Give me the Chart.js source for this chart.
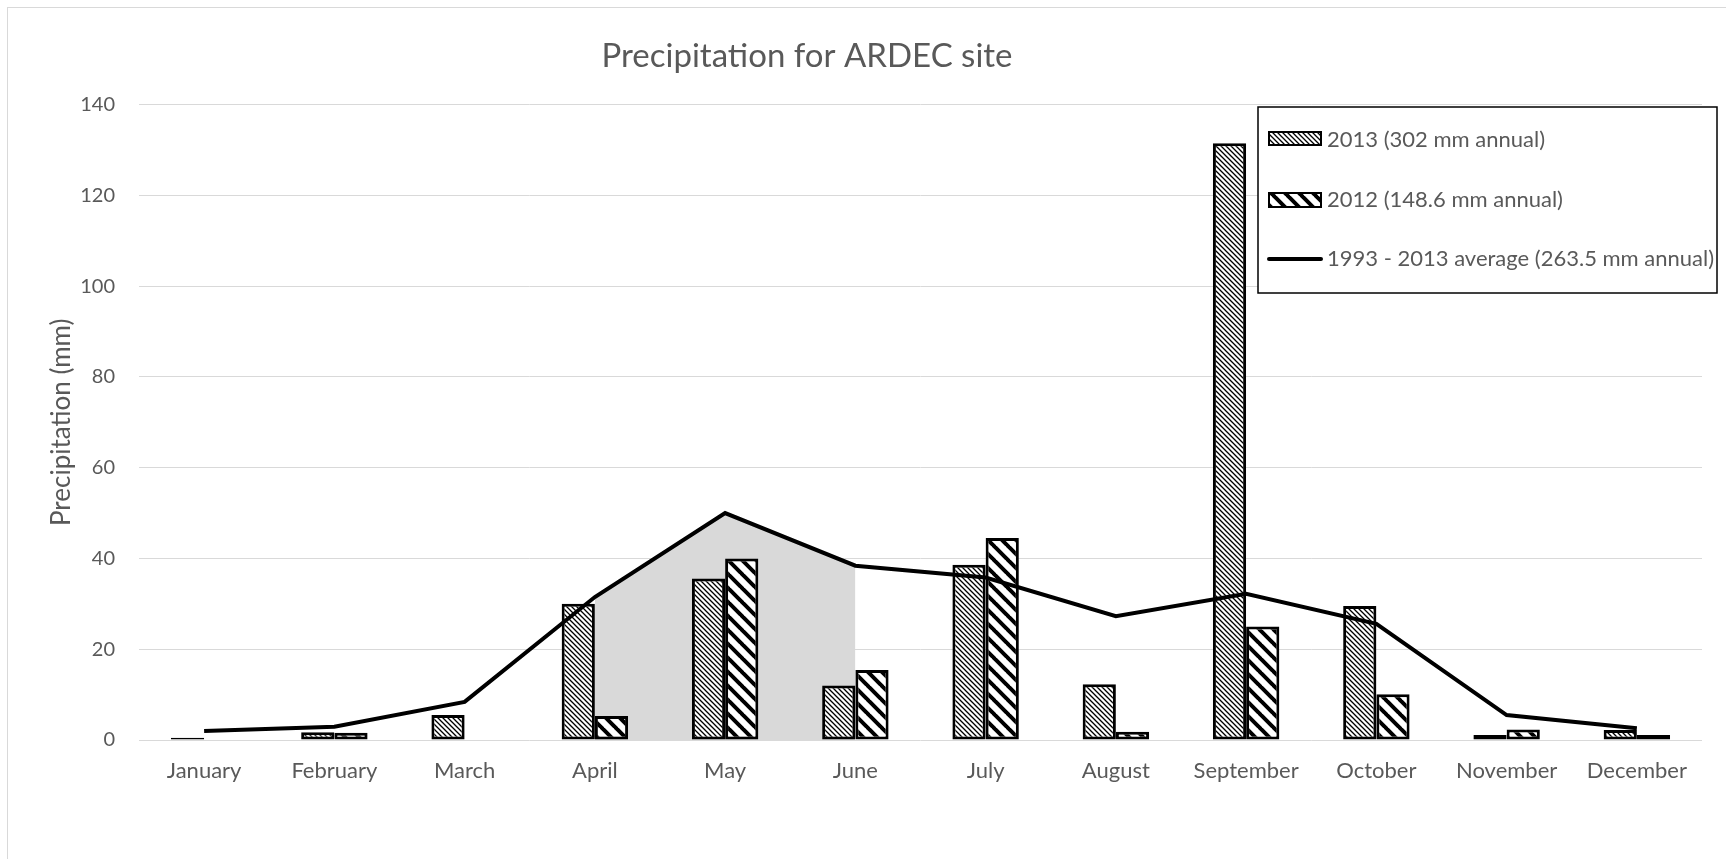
<!DOCTYPE html>
<html>
<head>
<meta charset="utf-8">
<script src="https://cdn.jsdelivr.net/npm/chart.js@4"></script>
<style>
html, body { margin:0; padding:0; background:#fff; overflow:hidden; }
#wrap { position:relative; width:1726px; height:859px; }
#frame { position:absolute; left:7px; top:7px; width:1800px; height:1000px; border-left:1px solid #d9d9d9; border-top:1px solid #d9d9d9; }
canvas { position:absolute; left:0; top:0; }
</style>
</head>
<body>
<div id="wrap">
<div id="frame"></div>
<canvas id="rainChart" width="1726" height="859"></canvas>
</div>
<script>

const months = ["January","February","March","April","May","June","July","August","September","October","November","December"]
const rain2013 = [0.5, 1.7, 5.5, 30, 35.6, 12, 38.6, 12.3, 131.5, 29.5, 1.1, 2.2]
const rain2012 = [0, 1.6, 0, 5.3, 40, 15.4, 44.5, 1.8, 25, 10.1, 2.3, 1.1]
const rainAvg = [2, 2.9, 8.4, 31.5, 50, 38.4, 35.8, 27.3, 32.2, 25.6, 5.5, 2.6]
// months where the area under the average is shaded (April - June)
const shadedMonths = ["April","May","June"]
const yTicks = [0, 20, 40, 60, 80, 100, 120, 140]
const labels2013 = "2013 (302 mm annual)"
const labels2012 = "2012 (148.6 mm annual)"
const labelAvg = "1993 - 2013 average (263.5 mm annual)"

const textGray = "#595959"
const fontName = "Lato"

function makeHatch(step, width){
const c = document.createElement("canvas")
c.width = step
c.height = step
const g = c.getContext("2d")
g.fillStyle = "#fff"
g.fillRect(0,0,step,step)
g.strokeStyle = "#000"
g.lineWidth = width
g.beginPath()
for(let k=-step; k<=step; k+=step){
g.moveTo(k-1, -1)
g.lineTo(k+step+1, step+1)
}
g.stroke()
return g.createPattern(c, "repeat")
}

const fine = makeHatch(5, 1.3)
const wide = makeHatch(14, 4)

const shade = months.map((m,i) => shadedMonths.includes(m) ? rainAvg[i] : null)

// the title in the original sits a little left of the page centre
const titleShift = {
id:"titleShift",
afterLayout(chart){
if(chart.titleBlock){ chart.titleBlock.right = 1614 }
}
}

// boxed legend in the top right corner
const boxLegend = {
id:"boxLegend",
afterDraw(chart){
const ctx = chart.ctx
ctx.save()
ctx.fillStyle = "#fff"
ctx.fillRect(1258,107,459,186)
ctx.strokeStyle = "#000"
ctx.lineWidth = 1.5
ctx.strokeRect(1258,107,459,186)

ctx.fillStyle = "#000"
ctx.fillRect(1268,131,54,15)
ctx.fillStyle = fine
ctx.fillRect(1270,133,50,11)

ctx.fillStyle = "#000"
ctx.fillRect(1268,192,54,16)
ctx.fillStyle = wide
ctx.fillRect(1270,194,50,12)

ctx.strokeStyle = "#000"
ctx.lineWidth = 4
ctx.lineCap = "round"
ctx.beginPath()
ctx.moveTo(1269,259)
ctx.lineTo(1321,259)
ctx.stroke()

ctx.fillStyle = textGray
ctx.font = "22px " + fontName
ctx.textBaseline = "middle"
ctx.textAlign = "left"
ctx.fillText(labels2013, 1327, 140)
ctx.fillText(labels2012, 1327, 200)
ctx.fillText(labelAvg, 1327, 259)
ctx.restore()
}
}

new Chart(document.getElementById("rainChart"), {

type:"bar",

data:{
labels:months,
datasets:[
{
type:"line",
label:labelAvg,
data:rainAvg,
borderColor:"#000",
borderWidth:4,
pointRadius:0,
tension:0,
fill:false,
order:0
},
{
label:labels2013,
data:rain2013,
backgroundColor:fine,
borderColor:"#000",
borderWidth:3,
borderSkipped:false,
order:1
},
{
label:labels2012,
data:rain2012,
backgroundColor:wide,
borderColor:"#000",
borderWidth:3,
borderSkipped:false,
order:1
},
{
type:"line",
label:"shade",
data:shade,
borderWidth:0,
pointRadius:0,
backgroundColor:"#d9d9d9",
fill:"origin",
spanGaps:false,
order:2
}
]
},

options:{
responsive:false,
animation:false,
events:[],
categoryPercentage:0.51,
barPercentage:1,
layout:{ padding:{ left:0, right:24, top:0, bottom:0 } },
plugins:{
legend:{ display:false },
tooltip:{ enabled:false },
title:{
display:true,
text:"Precipitation for ARDEC site",
color:textGray,
font:{ family:fontName, size:33, weight:"normal" },
padding:{ top:37, bottom:28 }
}
},
scales:{
x:{
grid:{ display:false },
border:{ display:false },
ticks:{ color:textGray, font:{ family:fontName, size:22 }, padding:10, autoSkip:false, maxRotation:0 },
afterFit(scale){ scale.height = 119 }
},
y:{
min:0,
max:140,
afterBuildTicks(scale){ scale.ticks = yTicks.map(v => ({ value:v })) },
grid:{ color:"#d9d9d9", lineWidth:1, drawTicks:false },
border:{ display:false },
ticks:{ color:textGray, font:{ family:fontName, size:20 }, padding:24 },
title:{
display:true,
text:"Precipitation (mm)",
color:textGray,
font:{ family:fontName, size:26 },
padding:{ top:46, bottom:0 }
},
afterFit(scale){ scale.width = 139 }
}
}
},

plugins:[titleShift, boxLegend]

})

</script>
</body>
</html>
